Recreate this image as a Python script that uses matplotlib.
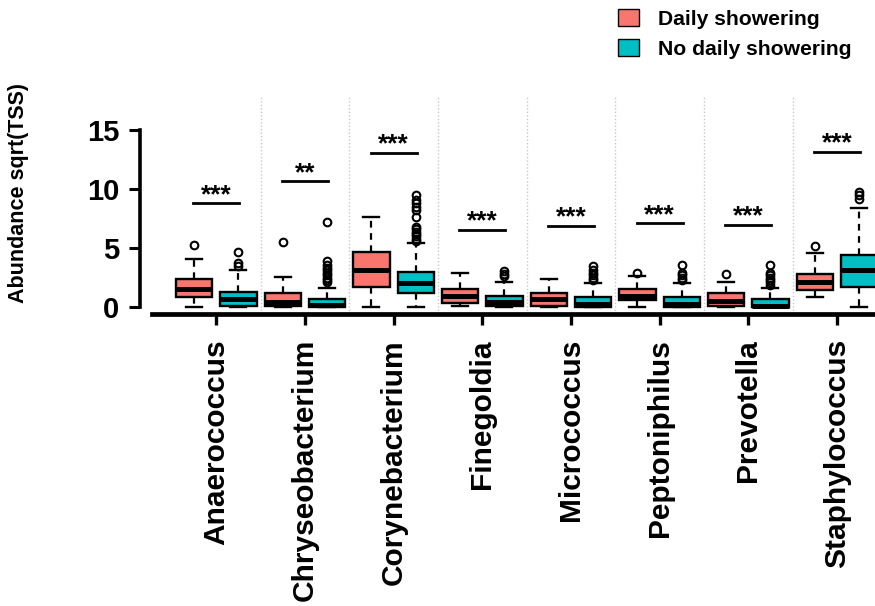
import matplotlib
matplotlib.use("Agg")
import matplotlib.pyplot as plt
from matplotlib.patches import Patch

plt.rcParams['font.family'] = ['Liberation Sans', 'DejaVu Sans']

genera = ['Anaerococcus', 'Chryseobacterium', 'Corynebacterium', 'Finegoldia',
          'Micrococcus', 'Peptoniphilus', 'Prevotella', 'Staphylococcus']

# box statistics, daily showering group
daily_lo = [0.0, 0.0, 0.0, 0.1, 0.0, 0.0, 0.0, 0.85]
daily_q1 = [0.85, 0.05, 1.7, 0.35, 0.05, 0.6, 0.05, 1.45]
daily_med = [1.5, 0.4, 3.15, 0.95, 0.65, 0.95, 0.5, 2.1]
daily_q3 = [2.4, 1.2, 4.7, 1.5, 1.2, 1.5, 1.2, 2.8]
daily_hi = [4.1, 2.55, 7.65, 2.85, 2.4, 2.6, 2.1, 4.6]
daily_out = [[5.3], [5.5], [], [], [], [2.85], [2.8], [5.2]]

# box statistics, no daily showering group
none_lo = [0.0, 0.0, 0.0, 0.0, 0.0, 0.0, 0.0, 0.0]
none_q1 = [0.05, 0.0, 1.2, 0.05, 0.0, 0.0, 0.0, 1.7]
none_med = [0.65, 0.15, 2.05, 0.4, 0.25, 0.25, 0.1, 3.1]
none_q3 = [1.3, 0.7, 3.0, 0.95, 0.85, 0.85, 0.7, 4.4]
none_hi = [3.1, 1.6, 5.45, 2.1, 2.05, 2.0, 1.6, 8.4]
none_out = [[3.5, 3.75, 4.65],
            [2.1, 2.3, 2.5, 2.7, 2.9, 3.1, 3.3, 3.6, 3.9, 7.2],
            [5.6, 5.8, 6.0, 6.2, 6.4, 6.6, 6.8, 7.65, 8.2, 8.5, 8.8, 9.1, 9.5],
            [2.6, 2.8, 3.05],
            [2.3, 2.5, 2.7, 2.9, 3.1, 3.5],
            [2.3, 2.5, 2.7, 2.9, 3.6],
            [1.9, 2.1, 2.3, 2.5, 2.7, 2.9, 3.55],
            [9.2, 9.5, 9.8]]

# significance bars
sig_y = [8.8, 10.7, 13.1, 6.55, 6.9, 7.1, 7.0, 13.2]
sig_text = ['***', '**', '***', '***', '***', '***', '***', '***']

col_daily = '#F8766D'
col_none = '#00BFC4'


def make_stats(lo, q1, med, q3, hi, out):
    return [dict(whislo=a, q1=b, med=c, q3=d, whishi=e, fliers=f)
            for a, b, c, d, e, f in zip(lo, q1, med, q3, hi, out)]


fig = plt.figure(figsize=(8.75, 6.06), dpi=100)
ax = fig.add_axes([0.16, 0.4818, 0.84, 0.358])

x = list(range(len(genera)))
off = 0.25
box_kw = dict(widths=0.41, capwidths=0.18, patch_artist=True,
              showfliers=True,
              boxprops=dict(edgecolor='black', linewidth=1.7),
              medianprops=dict(color='black', linewidth=3.6),
              whiskerprops=dict(color='black', linewidth=1.6, linestyle=(0, (3, 2.5))),
              capprops=dict(color='black', linewidth=1.7),
              flierprops=dict(marker='o', markerfacecolor='none',
                              markeredgecolor='black', markersize=5.5,
                              markeredgewidth=1.5))

b1 = ax.bxp(make_stats(daily_lo, daily_q1, daily_med, daily_q3, daily_hi, daily_out),
            positions=[i - off for i in x], **box_kw)
b2 = ax.bxp(make_stats(none_lo, none_q1, none_med, none_q3, none_hi, none_out),
            positions=[i + off for i in x], **box_kw)
for p in b1['boxes']:
    p.set_facecolor(col_daily)
for p in b2['boxes']:
    p.set_facecolor(col_none)

# dotted separators between genera
for i in x[:-1]:
    ax.axvline(i + 0.5, color='#c8c8c8', linestyle=(0, (1, 1.5)), linewidth=1, zorder=0)

# significance markers
for i, (yy, s) in enumerate(zip(sig_y, sig_text)):
    ax.plot([i - 0.26, i + 0.26], [yy, yy], color='black', linewidth=2)
    ax.text(i, yy + 0.1, s, ha='center', va='baseline', fontsize=19,
            fontweight='bold')

ax.set_xlim(-0.86, 7.43)
ax.set_ylim(-0.6, 17.84)

ax.spines['top'].set_visible(False)
ax.spines['right'].set_visible(False)
ax.spines['left'].set_bounds(0, 15)
ax.spines['left'].set_linewidth(2.6)
ax.spines['bottom'].set_bounds(-0.72, 7.43)
ax.spines['bottom'].set_linewidth(3.4)

ax.set_yticks([0, 5, 10, 15])
ax.set_yticklabels(['0', '5', '10', '15'], fontweight='bold')
ax.tick_params(axis='y', length=8, width=2.2, pad=7, labelsize=21)
ax.set_xticks(x)
ax.set_xticklabels(genera, rotation=90, fontsize=21.5, fontweight='bold')
ax.tick_params(axis='x', length=8, width=2.4, pad=10)

ax.set_ylabel('Abundance sqrt(TSS)', fontsize=15.5, fontweight='bold')
ax.yaxis.set_label_coords(-0.151, 0.56)

handles = [Patch(facecolor=col_daily, edgecolor='black', linewidth=1, label='Daily showering'),
           Patch(facecolor=col_none, edgecolor='black', linewidth=1, label='No daily showering')]
fig.legend(handles=handles, loc='upper left', bbox_to_anchor=(618 / 875, 1 - 9 / 606),
           frameon=False, borderpad=0, borderaxespad=0, handlelength=1.0,
           handleheight=0.85, handletextpad=0.9, labelspacing=0.5,
           prop=dict(size=15.2, weight='bold'))

fig.savefig('out.png', dpi=100)
